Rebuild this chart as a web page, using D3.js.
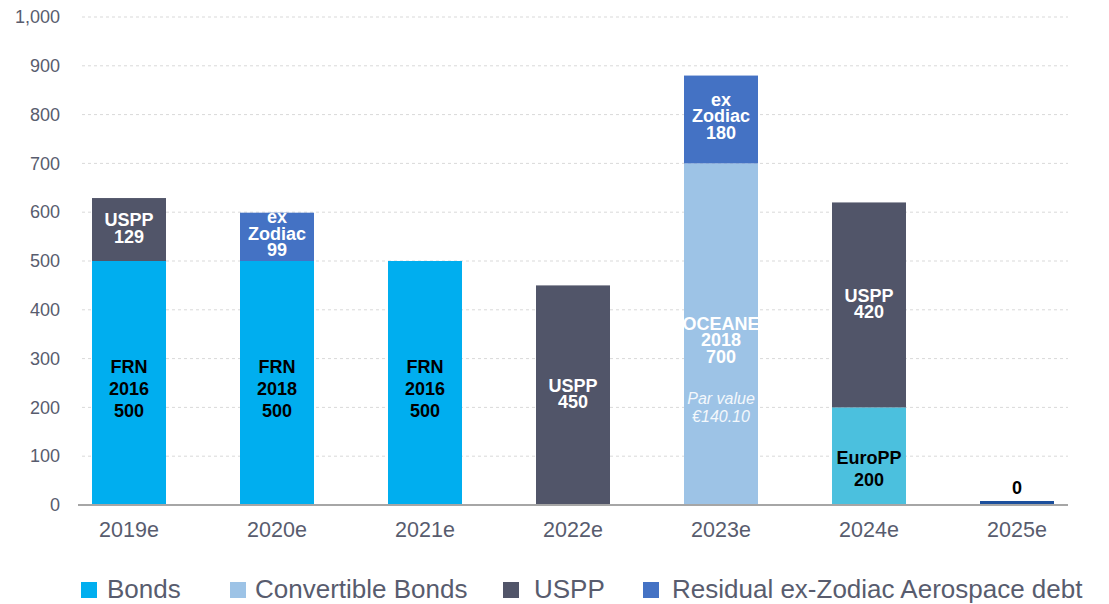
<!DOCTYPE html>
<html>
<head>
<meta charset="utf-8">
<script src="https://cdn.jsdelivr.net/npm/d3@7"></script>
<style>
  html, body { margin: 0; padding: 0; background: #ffffff; }
  svg { display: block; font-family: "Liberation Sans", Arial, sans-serif; }
</style>
</head>
<body>
<svg id="chart" width="1109" height="604"></svg>
<script>
// Debt maturity profile (EUR m), stacked by instrument
const years = ["2019e", "2020e", "2021e", "2022e", "2023e", "2024e", "2025e"];
const bonds       = [500, 500, 500,   0,   0,   0, 0];
const euroPP      = [  0,   0,   0,   0,   0, 200, 0];
const convertible = [  0,   0,   0,   0, 700,   0, 0];
const uspp        = [129,   0,   0, 450,   0, 420, 0];
const exZodiac    = [  0,  99,   0,   0, 180,   0, 0];
const yTicks = [0, 100, 200, 300, 400, 500, 600, 700, 800, 900, 1000];

const legendItems = [
  { key: "bonds", label: "Bonds" },
  { key: "convertible", label: "Convertible Bonds" },
  { key: "uspp", label: "USPP" },
  { key: "exZodiac", label: "Residual ex-Zodiac Aerospace debt" }
];

const segmentLabels = [
  { year: "2019e", key: "bonds", lines: ["FRN", "2016", "500"] },
  { year: "2019e", key: "uspp", lines: ["USPP", "129"] },
  { year: "2020e", key: "bonds", lines: ["FRN", "2018", "500"] },
  { year: "2020e", key: "exZodiac", lines: ["ex", "Zodiac", "99"] },
  { year: "2021e", key: "bonds", lines: ["FRN", "2016", "500"] },
  { year: "2022e", key: "uspp", lines: ["USPP", "450"] },
  { year: "2023e", key: "convertible", lines: ["OCEANE", "2018", "700"], note: ["Par value", "€140.10"] },
  { year: "2023e", key: "exZodiac", lines: ["ex", "Zodiac", "180"] },
  { year: "2024e", key: "uspp", lines: ["USPP", "420"] },
  { year: "2024e", key: "europp", lines: ["EuroPP", "200"] }
];

const colors = {
  bonds: "#00aeef",
  europp: "#4bc0de",
  convertible: "#9dc3e6",
  uspp: "#515569",
  exZodiac: "#4472c4",
  empty: "#1c4f9c"
};
const labelStyle = {
  bonds:       { fill: "#000000", lh: 22, dy: 6 },
  europp:      { fill: "#000000", lh: 22, dy: 13 },
  convertible: { fill: "#ffffff", lh: 16.5, dy: 6 },
  uspp:        { fill: "#ffffff", lh: 16.5, dy: -1 },
  exZodiac:    { fill: "#ffffff", lh: 16.5, dy: -3 }
};
const axisColor = "#585c6e";

const rows = years.map((y, i) => ({
  year: y,
  bonds: bonds[i],
  europp: euroPP[i],
  convertible: convertible[i],
  uspp: uspp[i],
  exZodiac: exZodiac[i]
}));
const keys = ["bonds", "europp", "convertible", "uspp", "exZodiac"];
const stacked = d3.stack().keys(keys)(rows);

const svg = d3.select("#chart");

const x = d3.scaleBand().domain(years).range([55, 1091])
  .paddingInner(0.5).paddingOuter(0.25);
const y = d3.scaleLinear().domain([0, 1000]).range([505, 17]);

// Dashed gridlines
svg.append("g")
  .selectAll("line")
  .data(yTicks.filter(t => t > 0))
  .join("line")
  .attr("x1", 82).attr("x2", 1068)
  .attr("y1", d => y(d)).attr("y2", d => y(d))
  .attr("stroke", "#d9d9d9")
  .attr("stroke-width", 1)
  .attr("stroke-dasharray", "3,3");

// Y axis labels
const yAxis = svg.append("g")
  .attr("transform", "translate(60,0)")
  .call(d3.axisLeft(y).tickValues(yTicks).tickSize(0).tickPadding(0).tickFormat(d3.format(",")));
yAxis.select(".domain").remove();
yAxis.selectAll("text")
  .attr("fill", axisColor)
  .style("font-size", "18px")
  .style("font-family", "Liberation Sans, Arial, sans-serif");

// Stacked bars
svg.append("g")
  .selectAll("g")
  .data(stacked)
  .join("g")
  .attr("fill", d => colors[d.key])
  .selectAll("rect")
  .data(d => d.filter(s => s[1] - s[0] > 0))
  .join("rect")
  .attr("x", d => x(d.data.year))
  .attr("width", x.bandwidth())
  .attr("y", d => y(d[1]))
  .attr("height", d => y(d[0]) - y(d[1]));

// Stub for zero-total years, with the value above
const totals = rows.map(r => ({ year: r.year, total: d3.sum(keys, k => r[k]) }));
const zeroYears = totals.filter(t => t.total === 0);
svg.append("g")
  .selectAll("rect")
  .data(zeroYears)
  .join("rect")
  .attr("x", d => x(d.year))
  .attr("width", x.bandwidth())
  .attr("y", d => Math.min(y(d.total), y(0) - 4))
  .attr("height", d => Math.max(y(0) - y(d.total), 4))
  .attr("fill", colors.empty);
svg.append("g")
  .selectAll("text")
  .data(zeroYears)
  .join("text")
  .attr("x", d => x(d.year) + x.bandwidth() / 2)
  .attr("y", d => y(d.total) - 17)
  .attr("text-anchor", "middle")
  .attr("dominant-baseline", "central")
  .attr("font-weight", "bold")
  .attr("font-size", 18)
  .attr("fill", "#000")
  .text(d => d3.format(",")(d.total));

// Baseline
svg.append("line")
  .attr("x1", 78).attr("x2", 1068)
  .attr("y1", y(0)).attr("y2", y(0))
  .attr("stroke", "#a6a6a6").attr("stroke-width", 2);

// X axis labels
const xAxis = svg.append("g")
  .attr("transform", `translate(0,${y(0)})`)
  .call(d3.axisBottom(x).tickSize(0).tickPadding(17));
xAxis.select(".domain").remove();
xAxis.selectAll("text")
  .attr("fill", axisColor)
  .style("font-size", "21.5px")
  .style("font-family", "Liberation Sans, Arial, sans-serif");

// Segment labels
const segLookup = {};
stacked.forEach(s => s.forEach(d => { segLookup[s.key + "|" + d.data.year] = d; }));
const labelG = svg.append("g");
segmentLabels.forEach(lab => {
  const seg = segLookup[lab.key + "|" + lab.year];
  const st = labelStyle[lab.key];
  const cx = x(lab.year) + x.bandwidth() / 2;
  const mid = (y(seg[0]) + y(seg[1])) / 2 + st.dy;
  const n = lab.lines.length;
  const y0 = mid - (n - 1) * st.lh / 2;
  lab.lines.forEach((t, i) => {
    labelG.append("text")
      .attr("x", cx).attr("y", y0 + i * st.lh)
      .attr("text-anchor", "middle")
      .attr("dominant-baseline", "central")
      .attr("font-weight", "bold")
      .attr("font-size", 18)
      .attr("fill", st.fill)
      .text(t);
  });
  if (lab.note) {
    const ny = y0 + (n - 1) * st.lh + 42;
    lab.note.forEach((t, i) => {
      labelG.append("text")
        .attr("x", cx).attr("y", ny + i * 18)
        .attr("text-anchor", "middle")
        .attr("dominant-baseline", "central")
        .attr("font-style", "italic")
        .attr("font-size", 16)
        .attr("fill", "#f4f8fc")
        .text(t);
    });
  }
});

// Legend
const legendSwatchX = [81, 230, 503, 643];
const legendTextX = [107, 255, 534, 672];
const legend = svg.append("g");
legendItems.forEach((item, i) => {
  legend.append("rect")
    .attr("x", legendSwatchX[i]).attr("y", 582)
    .attr("width", 16).attr("height", 16)
    .attr("fill", colors[item.key]);
  legend.append("text")
    .attr("x", legendTextX[i]).attr("y", 598)
    .attr("font-size", 26)
    .attr("fill", axisColor)
    .text(item.label);
});
</script>
</body>
</html>
